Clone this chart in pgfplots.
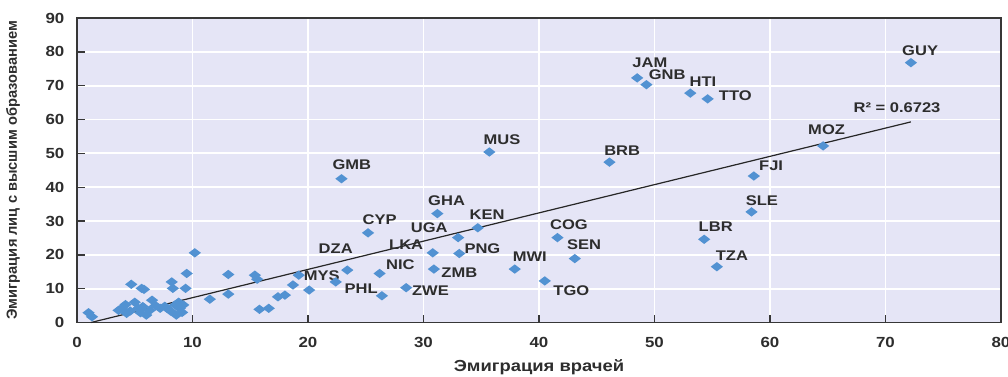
\documentclass[border=0pt]{standalone}
\usepackage{fontspec}
\setmainfont{Liberation Sans}
\newfontfamily\lblfont{Liberation Sans}[FakeStretch=1.18]
\newfontfamily\tickfont{Liberation Sans}[FakeStretch=1.15]
\usepackage{pgfplots}
\pgfplotsset{compat=1.18}

\definecolor{plotbg}{RGB}{229,229,246}
\definecolor{ptblue}{RGB}{82,146,210}
\definecolor{framegray}{RGB}{55,55,55}
\definecolor{txtgray}{RGB}{45,45,45}

% flat diamond marker, wider than tall
\pgfdeclareplotmark{flatdiamond}{%
  \pgfpathmoveto{\pgfqpoint{0pt}{3.5pt}}%
  \pgfpathlineto{\pgfqpoint{4.6pt}{0pt}}%
  \pgfpathlineto{\pgfqpoint{0pt}{-3.5pt}}%
  \pgfpathlineto{\pgfqpoint{-4.6pt}{0pt}}%
  \pgfpathclose\pgfusepathqfill}

\begin{document}
\begin{tikzpicture}
\begin{axis}[
  name=ax,
  scale only axis,
  width=693pt, height=228.4pt,
  xmin=0, xmax=80, ymin=0, ymax=90,
  xtick={0,10,...,80}, ytick={0,10,...,90},
  axis background/.style={fill=plotbg},
  axis line style={framegray, line width=1.1pt},
  grid=major,
  major grid style={white, line width=1.4pt},
  tick pos=left,
  tick align=inside,
  major tick length=6pt,
  tick style={framegray, line width=1pt},
  /pgf/number format/assume math mode=true,
  ticklabel style={font=\tickfont\bfseries\fontsize{11}{13}\selectfont, text=txtgray},
  yticklabel style={xshift=-6pt},
  xticklabel style={yshift=-7.5pt},
  xlabel={\tickfont\bfseries\fontsize{12}{14}\selectfont Эмиграция врачей},
  ylabel={\bfseries\fontsize{11}{13}\selectfont Эмиграция лиц с высшим образованием},
  xlabel style={at={(axis description cs:0.5,-0.146)}, anchor=center, text=txtgray},
  ylabel style={at={(axis description cs:-0.0693,0.5)}, anchor=center, text=txtgray},
  clip=false,
]
% countries
\addplot[only marks, mark=flatdiamond, color=ptblue] table {
x y
1.0 2.9
1.3 1.7
3.6 3.6
3.9 4.3
4.2 5.3
4.3 2.7
4.6 3.4
4.7 11.3
5.0 6.0
5.3 4.2
5.5 2.9
5.6 10.1
5.8 9.8
5.7 4.7
6.0 2.2
6.3 3.6
6.5 6.6
6.8 5.0
7.2 4.2
7.6 4.8
7.8 4.2
8.1 3.4
8.2 12.0
8.3 10.1
8.5 5.2
8.6 2.2
8.8 6.0
8.9 4.2
9.1 3.0
9.2 5.2
9.4 10.1
9.5 14.5
10.2 20.6
11.5 6.9
13.1 14.2
13.1 8.4
15.4 14.0
15.6 12.8
15.8 3.9
16.6 4.2
17.4 7.6
18.0 8.1
18.7 11.1
19.2 14.0
20.1 9.6
22.4 12.0
72.2 76.8
48.5 72.3
49.3 70.3
53.1 67.8
54.6 66.1
46.1 47.4
58.6 43.3
64.6 52.2
58.4 32.7
54.3 24.6
55.4 16.5
35.7 50.4
22.9 42.5
31.2 32.2
34.7 28.0
25.2 26.5
33.0 25.1
41.6 25.1
30.8 20.6
33.1 20.4
43.1 18.9
23.4 15.5
30.9 15.8
37.9 15.8
26.2 14.5
40.5 12.3
28.5 10.3
26.4 7.9
};
% linear trend
\addplot[black!85, line width=0.9pt] coordinates {(1.2,0) (72.2,59.3)};

\begin{scope}[every node/.style={font=\lblfont\bfseries\fontsize{10.5}{12}\selectfont, text=txtgray, inner sep=0pt}]
\node at (axis cs:73.0,80.4) {GUY};
\node at (axis cs:49.6,76.9) {JAM};
\node at (axis cs:51.1,73.2) {GNB};
\node at (axis cs:54.2,71.3) {HTI};
\node at (axis cs:57.0,67.1) {TTO};
\node at (axis cs:71.0,63.4) {R² = 0.6723};
\node at (axis cs:64.9,57.1) {MOZ};
\node at (axis cs:47.2,50.9) {BRB};
\node at (axis cs:60.1,46.2) {FJI};
\node at (axis cs:59.3,35.9) {SLE};
\node at (axis cs:55.3,28.3) {LBR};
\node at (axis cs:56.7,19.7) {TZA};
\node at (axis cs:36.8,54.0) {MUS};
\node at (axis cs:23.8,46.7) {GMB};
\node at (axis cs:32.0,35.9) {GHA};
\node at (axis cs:35.5,32.0) {KEN};
\node at (axis cs:26.2,30.4) {CYP};
\node at (axis cs:30.5,28.1) {UGA};
\node at (axis cs:42.6,28.8) {COG};
\node at (axis cs:28.5,22.9) {LKA};
\node at (axis cs:35.1,21.9) {PNG};
\node at (axis cs:43.9,22.9) {SEN};
\node at (axis cs:22.4,21.7) {DZA};
\node at (axis cs:39.2,19.4) {MWI};
\node at (axis cs:28.0,17.2) {NIC};
\node at (axis cs:33.1,14.7) {ZMB};
\node at (axis cs:21.2,13.8) {MYS};
\node at (axis cs:24.6,9.9) {PHL};
\node at (axis cs:30.6,9.4) {ZWE};
\node at (axis cs:42.8,9.4) {TGO};
\end{scope}
\end{axis}
\pgfresetboundingbox
\path[use as bounding box] (-57.75pt,-40.1pt) rectangle (698.25pt,241.9pt);
\end{tikzpicture}
\end{document}
